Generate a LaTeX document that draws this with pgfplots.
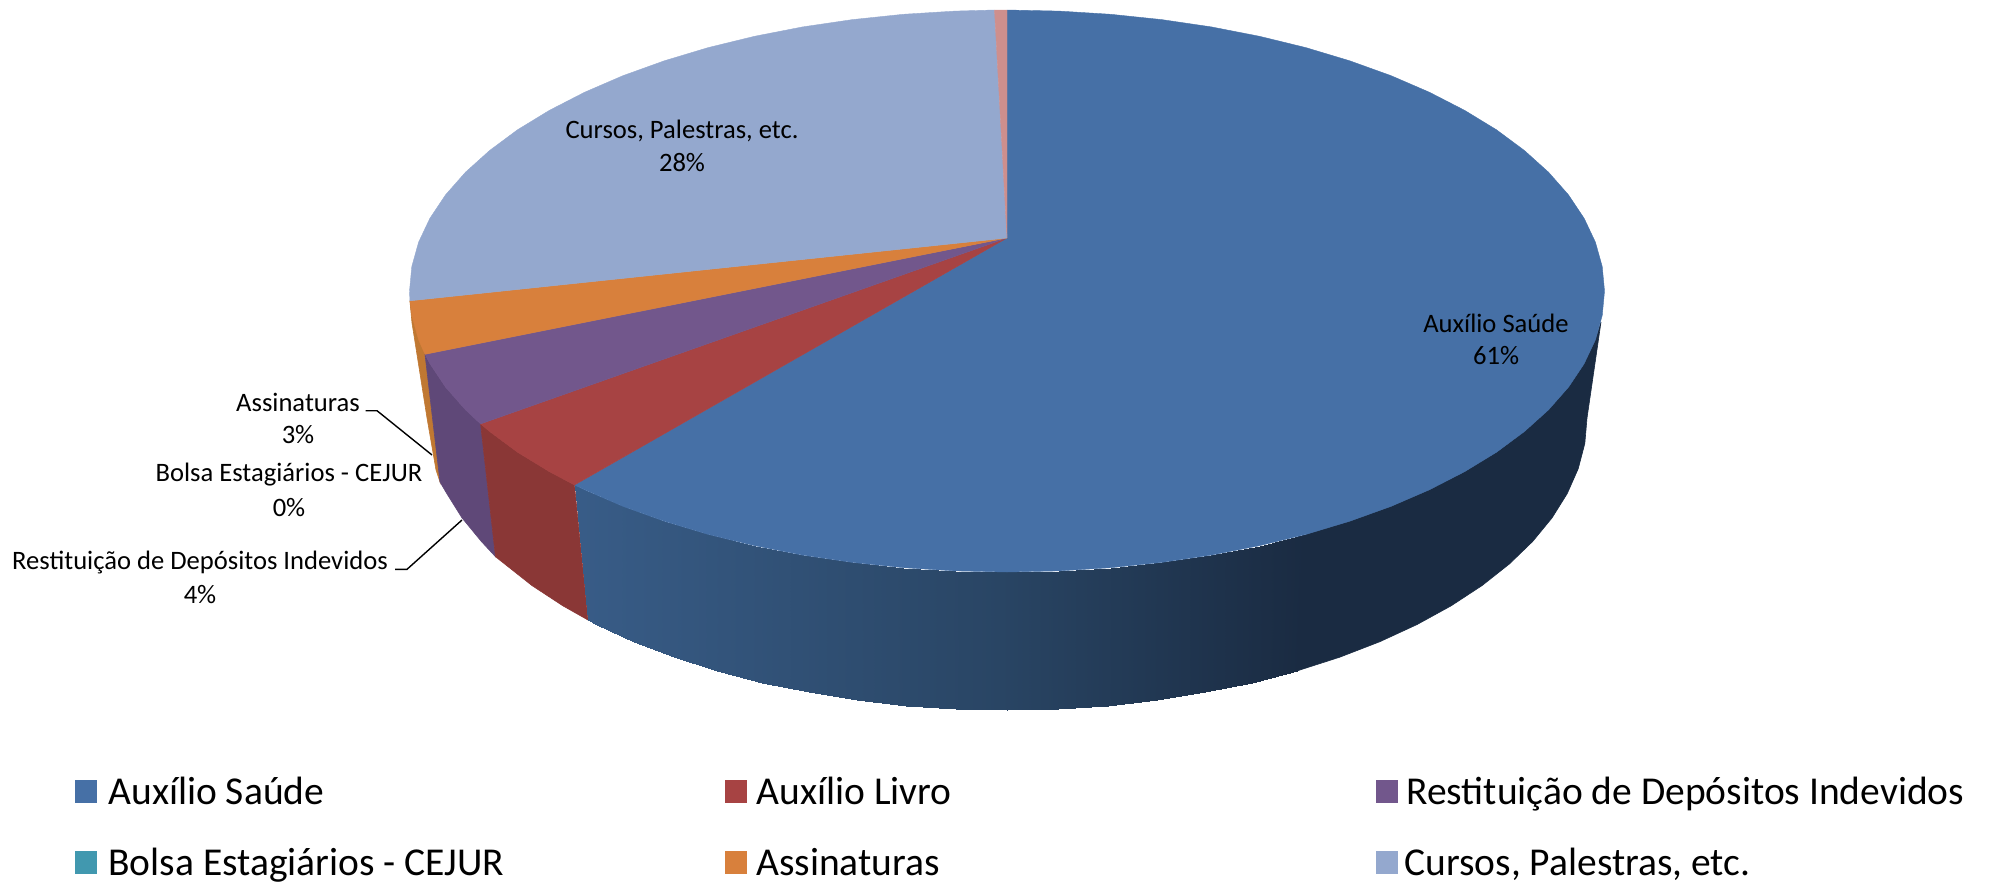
\documentclass[border=0pt]{standalone}
\usepackage{pgfplots}
\pgfplotsset{compat=1.18}
\usepackage{fontspec}
\setmainfont{Carlito}
\newcommand{\lab}[1]{\fontsize{13.3}{13.3}\selectfont #1}
\newcommand{\leg}[1]{\fontsize{19.75}{19.75}\selectfont #1}
\definecolor{cBlue}{HTML}{4670A6}
\definecolor{cRed}{HTML}{A74343}
\definecolor{cPurple}{HTML}{72578C}
\definecolor{cOrange}{HTML}{D8803C}
\definecolor{cLight}{HTML}{94A8CE}
\definecolor{cPink}{HTML}{CE8F8D}
\definecolor{cTeal}{HTML}{4198AF}
\definecolor{cRedS}{HTML}{8A3736}
\definecolor{cPurpleS}{HTML}{5F4878}
\definecolor{cOrangeS}{HTML}{C07832}
\definecolor{cDark}{RGB}{26,43,66}
\begin{document}
\begin{tikzpicture}
\begin{axis}[
  scale only axis, width=997.5pt, height=442pt,
  xmin=0, xmax=1995, ymin=0, ymax=884, y dir=reverse,
  hide axis, clip=false,
  colormap={side}{rgb255(0cm)=(56,92,135) rgb255(42cm)=(41,69,100) rgb255(72cm)=(26,43,66)},
  point meta min=580, point meta max=1300,
]
% sides
\addplot[fill=cOrangeS,draw=cOrangeS,line width=0.3pt] coordinates {(409.9,300.8)(425,354.3)(440,482)(436,470)(427,418)(412,323)} --cycle;
\addplot[fill=cPurpleS,draw=cPurpleS,line width=0.3pt] coordinates {(425,354.3)(429.9,363.7)(445.5,387.1)(465.5,409.8)(480.6,423.9)(495.5,556.7)(481.3,541.4)(462,517.9)(446.8,493.6)(440,482)} --cycle;
\addplot[fill=cRedS,draw=cRedS,line width=0.3pt] coordinates {(480.6,423.9)(489.6,431.5)(517.5,452.2)(549.3,471.6)(574.5,485)(588,620)(562.7,605.7)(531.9,585.5)(504.7,564)(495.5,556.7)} --cycle;
\addplot[patch, patch type=rectangle, shader=interp, point meta=x] coordinates {
(574.5,485)(584.5,489.7)(596.9,624.5)(588,620)
(584.5,489.7)(622.9,506.3)(634.2,641.7)(596.9,624.5)
(622.9,506.3)(664.3,521.2)(674.3,657.2)(634.2,641.7)
(664.3,521.2)(708.2,534.4)(717,670.9)(674.3,657.2)
(708.2,534.4)(754.5,545.7)(761.9,682.6)(717,670.9)
(754.5,545.7)(802.7,555.1)(808.6,692.4)(761.9,682.6)
(802.7,555.1)(852.4,562.4)(856.9,700)(808.6,692.4)
(852.4,562.4)(903.3,567.7)(906.3,705.6)(856.9,700)
(903.3,567.7)(954.9,570.9)(956.4,708.9)(906.3,705.6)
(954.9,570.9)(1007,572)(1007,710)(956.4,708.9)
(1007,572)(1059.1,570.9)(1057.6,708.9)(1007,710)
(1059.1,570.9)(1110.7,567.7)(1107.7,705.6)(1057.6,708.9)
(1110.7,567.7)(1161.6,562.4)(1157.1,700)(1107.7,705.6)
(1161.6,562.4)(1211.3,555.1)(1205.4,692.4)(1157.1,700)
(1211.3,555.1)(1259.5,545.7)(1252.1,682.6)(1205.4,692.4)
(1259.5,545.7)(1305.8,534.4)(1297,670.9)(1252.1,682.6)
};
\addplot[fill=cDark,draw=cDark,line width=0.3pt] coordinates {(1305.8,534.4)(1349.7,521.2)(1391.1,506.3)(1429.5,489.7)(1464.7,471.6)(1496.5,452.2)(1524.4,431.5)(1548.5,409.8)(1568.5,387.1)(1584.1,363.7)(1595.4,339.8)(1601,322)(1587,418)(1584.8,443.5)(1578.2,468.7)(1567.2,493.6)(1552,517.9)(1532.7,541.4)(1509.3,564)(1482.1,585.5)(1451.3,605.7)(1417.1,624.5)(1379.8,641.7)(1339.7,657.2)(1297,670.9)} --cycle;
% top
\addplot[fill=cBlue,draw=cBlue,line width=0.2pt] coordinates {(1007,238)(1007,10)(1059.1,11.1)(1110.7,14.3)(1161.6,19.6)(1211.3,26.9)(1259.5,36.3)(1305.8,47.6)(1349.7,60.8)(1391.1,75.7)(1429.5,92.3)(1464.7,110.4)(1496.5,129.8)(1524.4,150.5)(1548.5,172.2)(1568.5,194.9)(1584.1,218.3)(1595.4,242.2)(1602.2,266.5)(1604.5,291)(1602.2,315.5)(1595.4,339.8)(1584.1,363.7)(1568.5,387.1)(1548.5,409.8)(1524.4,431.5)(1496.5,452.2)(1464.7,471.6)(1429.5,489.7)(1391.1,506.3)(1349.7,521.2)(1305.8,534.4)(1259.5,545.7)(1211.3,555.1)(1161.6,562.4)(1110.7,567.7)(1059.1,570.9)(1007,572)(954.9,570.9)(903.3,567.7)(852.4,562.4)(802.7,555.1)(754.5,545.7)(708.2,534.4)(664.3,521.2)(622.9,506.3)(584.5,489.7)(574.5,485)} --cycle;
\addplot[fill=cRed,draw=cRed,line width=0.2pt] coordinates {(1007,238)(574.5,485)(549.3,471.6)(517.5,452.2)(489.6,431.5)(480.6,423.9)} --cycle;
\addplot[fill=cPurple,draw=cPurple,line width=0.2pt] coordinates {(1007,238)(480.6,423.9)(465.5,409.8)(445.5,387.1)(429.9,363.7)(425,354.3)} --cycle;
\addplot[fill=cOrange,draw=cOrange,line width=0.2pt] coordinates {(1007,238)(425,354.3)(418.6,339.8)(411.8,315.5)(409.9,300.8)} --cycle;
\addplot[fill=cLight,draw=cLight,line width=0.2pt] coordinates {(1007,238)(409.9,300.8)(409.5,291)(411.8,266.5)(418.6,242.2)(429.9,218.3)(445.5,194.9)(465.5,172.2)(489.6,150.5)(517.5,129.8)(549.3,110.4)(584.5,92.3)(622.9,75.7)(664.3,60.8)(708.2,47.6)(754.5,36.3)(802.7,26.9)(852.4,19.6)(903.3,14.3)(954.9,11.1)(994.5,10)} --cycle;
\addplot[fill=cPink,draw=cPink,line width=0.2pt] coordinates {(1007,238)(994.5,10)(1007,10)} --cycle;
% leader lines
\addplot[black,line width=0.7pt] coordinates {(365.6,410.7)(377,410.7)(432,455)};
\addplot[black,line width=0.7pt] coordinates {(395,569.3)(407,569.3)(462,520)};
% legend keys
\addplot[fill=cBlue,draw=none] coordinates {(75,780)(97,780)(97,803)(75,803)} --cycle;
\addplot[fill=cRed,draw=none] coordinates {(725,780)(747,780)(747,803)(725,803)} --cycle;
\addplot[fill=cPurple,draw=none] coordinates {(1376,780)(1398,780)(1398,803)(1376,803)} --cycle;
\addplot[fill=cTeal,draw=none] coordinates {(75,851)(97,851)(97,874)(75,874)} --cycle;
\addplot[fill=cOrange,draw=none] coordinates {(725,851)(747,851)(747,874)(725,874)} --cycle;
\addplot[fill=cLight,draw=none] coordinates {(1376,851)(1398,851)(1398,874)(1376,874)} --cycle;
% data labels
\node[inner sep=0pt] at (axis cs:1496,323) {\lab{Auxílio Saúde}};
\node[inner sep=0pt] at (axis cs:1496,356) {\lab{61\%}};
\node[inner sep=0pt] at (axis cs:682,131) {\lab{Cursos, Palestras, etc.}};
\node[inner sep=0pt] at (axis cs:682,163) {\lab{28\%}};
\node[inner sep=0pt] at (axis cs:298,402) {\lab{Assinaturas}};
\node[inner sep=0pt] at (axis cs:298,435) {\lab{3\%}};
\node[inner sep=0pt] at (axis cs:289,475) {\lab{Bolsa Estagiários - CEJUR}};
\node[inner sep=0pt] at (axis cs:289,508) {\lab{0\%}};
\node[inner sep=0pt] at (axis cs:200,562) {\lab{Restituição de Depósitos Indevidos}};
\node[inner sep=0pt] at (axis cs:200,595) {\lab{4\%}};
% legend text
\node[inner sep=0pt,anchor=base west] at (axis cs:108,804) {\leg{Auxílio Saúde}};
\node[inner sep=0pt,anchor=base west] at (axis cs:756,804) {\leg{Auxílio Livro}};
\node[inner sep=0pt,anchor=base west] at (axis cs:1406,804) {\leg{Restituição de Depósitos Indevidos}};
\node[inner sep=0pt,anchor=base west] at (axis cs:108,875) {\leg{Bolsa Estagiários - CEJUR}};
\node[inner sep=0pt,anchor=base west] at (axis cs:756,875) {\leg{Assinaturas}};
\node[inner sep=0pt,anchor=base west] at (axis cs:1404,875) {\leg{Cursos, Palestras, etc.}};
\end{axis}
\path[use as bounding box] (0,0) rectangle (997.5pt,442pt);
\end{tikzpicture}
\end{document}
